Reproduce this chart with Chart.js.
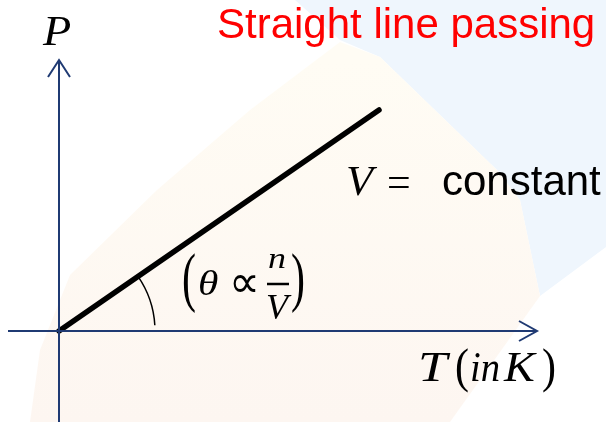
<!DOCTYPE html>
<html>
<head>
<meta charset="utf-8">
<script src="https://cdn.jsdelivr.net/npm/chart.js@4.4.1/dist/chart.umd.min.js"></script>
<style>
  html, body { margin: 0; padding: 0; background: #ffffff; }
  #wrap { width: 606px; height: 422px; position: relative; }
</style>
</head>
<body>
<div id="wrap"><canvas id="grafica" width="606" height="422"></canvas></div>
<script>
// --- datos de la grafica (T en x, P en y) ---
const lineaT = [0, 320];
const lineaP = [0, 221];

const ejeTx = [-51, 478];
const ejeTy = [0, 0];
const flechaTx = [460, 478, 460];
const flechaTy = [10, 0, -10];

const ejePx = [0, 0];
const ejePy = [-91, 271];
const flechaPx = [-11, 0, 11];
const flechaPy = [254, 271, 254];

const titulo = 'Straight line passing';
const etiquetaEje = ['P', 'T', '(', 'in', 'K', ')'];
const etiquetaLinea = ['V', '=', 'constant'];
const etiquetaAngulo = ['θ', '∝', 'n', 'V'];

const AZUL = '#1f3a73';
const SERIF = '"Liberation Serif", "DejaVu Serif", serif';
const SANS = '"Liberation Sans", Arial, sans-serif';

function puntos(xs, ys) {
    return xs.map((x, i) => ({ x: x, y: ys[i] }));
}

// dibuja un texto con escala opcional (para imitar la fuente Cambria Math)
function glifo(ctx, txt, font, x, y, sx, sy) {
    ctx.save();
    ctx.translate(x, y);
    ctx.scale(sx || 1, sy || 1);
    ctx.font = font;
    ctx.fillText(txt, 0, 0);
    ctx.restore();
}

// fondo tenue (marca de agua)
const fondoPlugin = {
    id: 'fondo',
    beforeDraw(chart) {
        const ctx = chart.ctx;
        ctx.save();
        ctx.fillStyle = '#eff6fd';
        ctx.beginPath();
        ctx.moveTo(295, 0); ctx.lineTo(606, 0); ctx.lineTo(606, 247);
        ctx.lineTo(540, 296); ctx.lineTo(520, 200); ctx.lineTo(497, 170);
        ctx.lineTo(380, 57); ctx.lineTo(340, 40);
        ctx.closePath();
        ctx.fill();

        const g = ctx.createLinearGradient(0, 60, 0, 422);
        g.addColorStop(0, '#fffcf4');
        g.addColorStop(1, '#fdf6f1');
        ctx.fillStyle = g;
        ctx.beginPath();
        ctx.moveTo(30, 422); ctx.lineTo(40, 350); ctx.lineTo(70, 275);
        ctx.lineTo(157, 190); ctx.lineTo(250, 110); ctx.lineTo(340, 42);
        ctx.lineTo(380, 57); ctx.lineTo(497, 170); ctx.lineTo(520, 200);
        ctx.lineTo(540, 296); ctx.lineTo(450, 422);
        ctx.closePath();
        ctx.fill();
        ctx.restore();
    }
};

// textos y arco del angulo
const textosPlugin = {
    id: 'textos',
    afterDraw(chart) {
        const ctx = chart.ctx;
        const sx = chart.scales.x, sy = chart.scales.y;
        const ox = sx.getPixelForValue(0), oy = sy.getPixelForValue(0);
        ctx.save();

        // arco del angulo
        const ang = Math.atan2(lineaP[1], lineaT[1]);
        ctx.strokeStyle = '#000';
        ctx.lineWidth = 1.5;
        ctx.beginPath();
        ctx.arc(ox, oy, 96, -ang, -0.06);
        ctx.stroke();

        ctx.textAlign = 'left';
        ctx.textBaseline = 'alphabetic';
        ctx.fillStyle = '#000';

        // P
        glifo(ctx, etiquetaEje[0], 'italic 42px ' + SERIF, 43, 45, 1.1, 1);

        // T (in K)
        glifo(ctx, etiquetaEje[1], 'italic 42px ' + SERIF, 418, 381, 1.25, 1);
        glifo(ctx, etiquetaEje[2], '42px ' + SERIF, 455, 382, 1, 1.15);
        glifo(ctx, etiquetaEje[3], 'italic 42px ' + SERIF, 470, 381, 0.92, 1);
        glifo(ctx, etiquetaEje[4], 'italic 42px ' + SERIF, 504, 381, 1.1, 1);
        glifo(ctx, etiquetaEje[5], '42px ' + SERIF, 542, 382, 1, 1.15);

        // V = constant
        glifo(ctx, etiquetaLinea[0], 'italic 42px ' + SERIF, 346, 195, 1.05, 1);
        glifo(ctx, etiquetaLinea[1], '42px ' + SERIF, 387, 196, 1.0, 1);
        glifo(ctx, etiquetaLinea[2], '42px ' + SANS, 442, 195, 1, 1);

        // ( theta prop n/V )
        glifo(ctx, '(', '42px ' + SERIF, 182, 299, 1, 1.55);
        glifo(ctx, ')', '42px ' + SERIF, 291, 299, 1, 1.55);
        glifo(ctx, etiquetaAngulo[0], 'italic 36px ' + SERIF, 198, 295, 1.15, 1);
        glifo(ctx, etiquetaAngulo[1], '36px "DejaVu Sans", sans-serif', 229, 297, 1.2, 1.25);
        glifo(ctx, etiquetaAngulo[2], 'italic 30px ' + SERIF, 268, 268, 1.2, 1);
        glifo(ctx, etiquetaAngulo[3], 'italic 36px ' + SERIF, 266, 319, 1, 1);
        ctx.lineWidth = 2.5;
        ctx.beginPath();
        ctx.moveTo(267, 284); ctx.lineTo(289, 284);
        ctx.stroke();

        // titulo rojo
        ctx.fillStyle = '#ff0000';
        glifo(ctx, titulo, '42px ' + SANS, 217, 38, 1, 1);
        ctx.restore();
    }
};

const base = { showLine: true, pointRadius: 0, fill: false, tension: 0 };

new Chart(document.getElementById('grafica').getContext('2d'), {
    type: 'scatter',
    data: {
        datasets: [
            Object.assign({ label: 'eje T', data: puntos(ejeTx, ejeTy), borderColor: AZUL, borderWidth: 2 }, base),
            Object.assign({ label: 'flecha T', data: puntos(flechaTx, flechaTy), borderColor: AZUL, borderWidth: 2 }, base),
            Object.assign({ label: 'eje P', data: puntos(ejePx, ejePy), borderColor: AZUL, borderWidth: 2 }, base),
            Object.assign({ label: 'flecha P', data: puntos(flechaPx, flechaPy), borderColor: AZUL, borderWidth: 2 }, base),
            Object.assign({ label: 'V constante', data: puntos(lineaT, lineaP), borderColor: '#000000', borderWidth: 5.5, borderCapStyle: 'round' }, base)
        ]
    },
    options: {
        responsive: false,
        animation: false,
        layout: { padding: 0 },
        plugins: { legend: { display: false }, tooltip: { enabled: false } },
        scales: {
            x: { type: 'linear', display: false, min: -59, max: 547 },
            y: { type: 'linear', display: false, min: -91, max: 331 }
        }
    },
    plugins: [fondoPlugin, textosPlugin]
});
</script>
</body>
</html>
